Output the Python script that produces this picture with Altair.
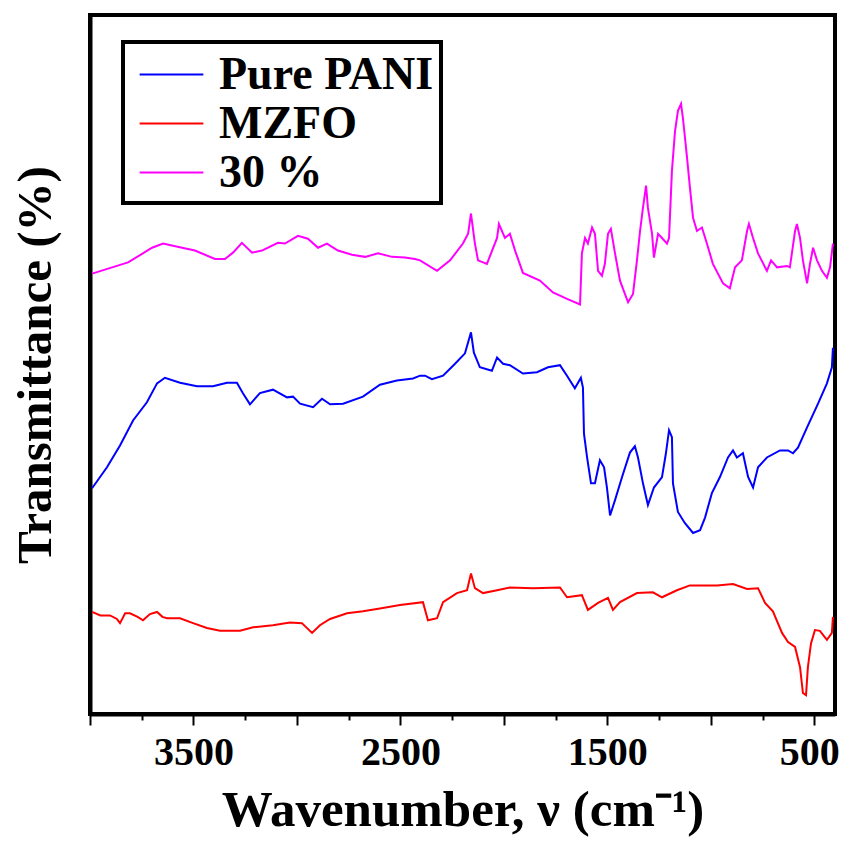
import altair as alt
import pandas as pd

series_names = ["Pure PANI", "MZFO", "30 %"]
series_colors = ["#0000FF", "#FF0000", "#FF00FF"]

pani_wn = [3990, 3918, 3855, 3792, 3725, 3676, 3638, 3565, 3483, 3406, 3338, 3290, 3261, 3227,
           3179, 3116, 3048, 3019, 2985, 2922, 2879, 2840, 2777, 2681, 2599, 2517, 2439, 2405,
           2381, 2348, 2294, 2236, 2188, 2159, 2145, 2116, 2058, 2033, 2004, 1971, 1908, 1840,
           1787, 1729, 1695, 1657, 1628, 1618, 1613, 1598, 1579, 1560, 1536, 1516, 1502, 1487,
           1463, 1429, 1391, 1367, 1352, 1328, 1304, 1275, 1236, 1217, 1202, 1188, 1183, 1159,
           1125, 1086, 1052, 1028, 995, 956, 917, 893, 874, 845, 820, 796, 772, 729, 666, 627,
           603, 579, 535, 482, 439, 415, 410]
pani_t = [32.3, 35.3, 38.4, 42.0, 44.6, 47.3, 48.1, 47.4, 46.9, 46.9, 47.4, 47.4, 45.9, 44.3,
          45.9, 46.4, 45.3, 45.4, 44.4, 43.9, 45.1, 44.3, 44.4, 45.4, 47.1, 47.7, 48.0, 48.4,
          48.4, 47.9, 48.4, 50.1, 51.6, 54.6, 51.7, 49.6, 49.1, 51.0, 50.1, 49.9, 48.7, 48.9,
          49.6, 49.9, 48.4, 46.6, 48.1, 46.7, 40.1, 36.7, 33.0, 33.0, 36.3, 35.3, 32.4, 28.4,
          30.6, 33.9, 37.4, 38.3, 36.7, 33.0, 29.9, 32.4, 33.9, 37.3, 40.6, 39.6, 33.0, 28.9,
          27.3, 25.9, 26.3, 28.1, 31.6, 33.9, 36.7, 37.7, 36.7, 37.3, 33.9, 32.4, 35.3, 36.7,
          37.7, 37.7, 37.3, 38.1, 41.0, 44.4, 47.3, 49.6, 52.4]

mzfo_wn = [3990, 3950, 3903, 3870, 3855, 3830, 3807, 3770, 3744, 3710, 3676, 3650, 3628, 3565,
           3502, 3435, 3372, 3275, 3212, 3116, 3034, 2976, 2927, 2889, 2840, 2758, 2681, 2599,
           2502, 2391, 2367, 2323, 2294, 2227, 2178, 2159, 2140, 2101, 2033, 1971, 1859, 1729,
           1695, 1623, 1594, 1545, 1497, 1473, 1439, 1357, 1280, 1236, 1164, 1101, 970, 893,
           825, 772, 738, 700, 656, 627, 593, 569, 555, 540, 531, 516, 497, 473, 439, 415, 410]
mzfo_t = [14.6, 14.1, 14.1, 13.6, 13.0, 14.4, 14.4, 13.9, 13.4, 14.3, 14.6, 13.9, 13.7, 13.7,
          13.0, 12.3, 11.9, 11.9, 12.4, 12.7, 13.1, 13.0, 11.6, 12.7, 13.6, 14.4, 14.7, 15.1,
          15.6, 16.0, 13.4, 13.7, 16.0, 17.3, 17.7, 20.1, 18.0, 17.3, 17.7, 18.1, 18.0, 18.1,
          16.7, 17.0, 14.9, 15.9, 16.6, 14.9, 16.0, 17.3, 17.4, 16.7, 17.7, 18.4, 18.4, 18.6,
          17.9, 18.0, 15.9, 14.7, 11.6, 10.3, 9.6, 6.7, 3.0, 2.7, 6.7, 10.1, 12.0, 11.9, 10.6,
          11.6, 13.9]

comp_wn = [3990, 3816, 3700, 3647, 3555, 3493, 3396, 3348, 3309, 3266, 3217, 3169, 3092, 3058,
           2995, 2947, 2898, 2855, 2802, 2734, 2671, 2608, 2541, 2478, 2430, 2405, 2323, 2260,
           2198, 2173, 2159, 2140, 2125, 2082, 2033, 2024, 1995, 1971, 1946, 1908, 1826, 1763,
           1695, 1632, 1623, 1608, 1594, 1574, 1560, 1545, 1526, 1512, 1497, 1483, 1463, 1439,
           1400, 1376, 1357, 1342, 1328, 1313, 1304, 1284, 1275, 1255, 1236, 1212, 1202, 1188,
           1173, 1159, 1144, 1135, 1115, 1101, 1086, 1067, 1043, 1019, 990, 941, 908, 883, 850,
           825, 816, 796, 772, 729, 709, 680, 632, 618, 593, 584, 569, 555, 535, 521, 506, 487,
           463, 439, 424, 410]
comp_t = [63.0, 64.6, 66.7, 67.3, 66.7, 66.3, 65.1, 65.1, 66.0, 67.4, 66.0, 66.3, 67.4, 67.3,
          68.4, 68.0, 66.7, 67.3, 66.3, 65.7, 65.4, 65.9, 65.4, 65.3, 65.1, 64.9, 63.4, 64.9,
          67.3, 68.7, 71.6, 67.3, 64.9, 64.4, 68.1, 70.1, 68.1, 68.7, 66.3, 63.1, 62.0, 60.3,
          59.4, 58.6, 65.9, 68.1, 67.3, 69.6, 68.7, 63.4, 62.7, 64.4, 68.7, 69.4, 65.9, 62.0,
          58.9, 60.1, 64.9, 69.1, 72.4, 75.6, 72.4, 68.7, 65.3, 68.7, 68.1, 67.3, 68.1, 77.7,
          83.4, 86.3, 87.3, 85.3, 79.6, 75.3, 71.0, 69.1, 69.6, 67.3, 64.4, 61.6, 60.9, 63.9, 64.9,
          69.1, 70.1, 68.1, 65.9, 63.4, 64.9, 63.9, 64.1, 63.9, 69.1, 70.1, 68.1, 64.9, 61.6, 64.4,
          66.7, 64.9, 63.4, 62.4, 63.9, 67.3]

tick_values = list(range(4000, 499, -250))

rows = []
for name, wns, ts in [("Pure PANI", pani_wn, pani_t), ("MZFO", mzfo_wn, mzfo_t), ("30 %", comp_wn, comp_t)]:
    for w, t in zip(wns, ts):
        rows.append({"series": name, "wavenumber": w, "T": t})
df = pd.DataFrame(rows)

FONT = "Liberation Serif"

chart = alt.Chart(df).mark_line(strokeWidth=2).encode(
    x=alt.X("wavenumber:Q",
            scale=alt.Scale(domain=[400, 4000], reverse=True, nice=False, zero=False),
            axis=alt.Axis(values=tick_values, format="d",
                          labelExpr="(datum.value - 500) % 1000 === 0 ? datum.label : ''",
                          tickSize={"condition": {"test": "datum.value % 500 === 0", "value": 11}, "value": 6},
                          labelOffset={"condition": {"test": "datum.value === 500", "value": -5}, "value": 0},
                          tickWidth=2, tickColor="black", domainColor="black", domainWidth=4,
                          labelFont=FONT, labelFontSize=40, labelFontWeight="bold", labelColor="black",
                          labelPadding=7, grid=False,
                          titleFont=FONT, titleFontSize=51, titleFontWeight="bold", titleColor="black",
                          titlePadding=13),
            title="Wavenumber, ν (cm⁻¹)"),
    y=alt.Y("T:Q",
            scale=alt.Scale(domain=[0, 100], nice=False),
            axis=alt.Axis(labels=False, ticks=False, grid=False, domainColor="black", domainWidth=4,
                          titleFont=FONT, titleFontSize=49, titleFontWeight="bold", titleColor="black",
                          titlePadding=30),
            title="Transmittance (%)"),
    color=alt.Color("series:N",
                    scale=alt.Scale(domain=series_names, range=series_colors),
                    legend=alt.Legend(orient="none", legendX=33, legendY=27, title=None,
                                      symbolType="M-1.3,0H1.3", symbolSize=2401, symbolStrokeWidth=2,
                                      symbolOffset=16, symbolFillColor="transparent",
                                      labelFont=FONT, labelFontSize=46, labelFontWeight="bold",
                                      labelColor="black", labelOffset=22, labelLimit=0,
                                      rowPadding=-4, padding=7)),
).properties(
    width=745, height=699,
    autosize=alt.AutoSizeParams(type="none"),
    padding={"left": 82, "top": 7, "right": 8, "bottom": 123},
).configure_view(
    stroke="black", strokeWidth=4
).configure_legend(
    strokeColor="black", strokeWidth=4
)

chart.save("out.html", embed_options={"renderer": "svg", "actions": False})
